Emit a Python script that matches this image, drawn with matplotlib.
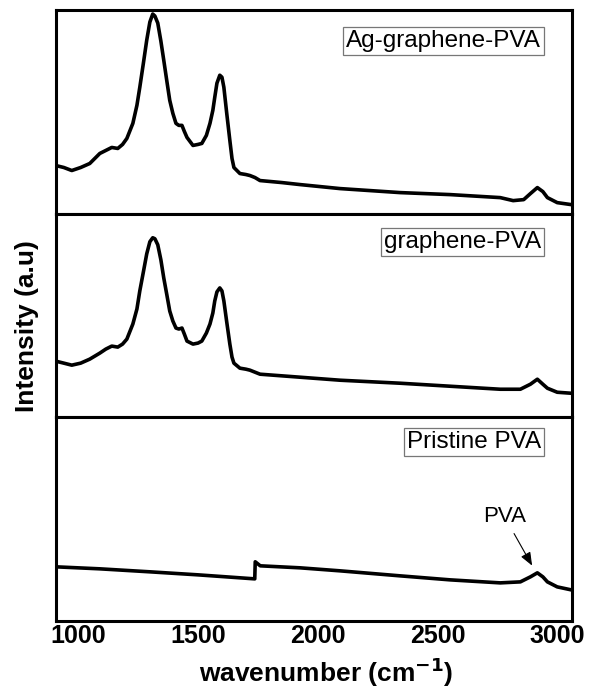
import matplotlib
matplotlib.use("Agg")
import matplotlib.pyplot as plt

plt.rcParams['font.family'] = ['Liberation Sans', 'DejaVu Sans']

# Ag-graphene-PVA (top panel)
wn_ag = [906, 940, 973, 1010, 1048, 1090, 1115, 1140, 1165, 1185, 1203, 1228, 1245,
         1257, 1272, 1286, 1299, 1311, 1320, 1332, 1345, 1357, 1370, 1382, 1395,
         1408, 1420, 1433, 1443, 1454, 1479, 1500, 1516, 1535, 1550, 1562, 1570,
         1579, 1591, 1600, 1608, 1620, 1633, 1642, 1650, 1675, 1700, 1717, 1738,
         1759, 1850, 1926, 2093, 2344, 2553, 2762, 2816, 2860, 2888, 2917, 2940,
         2959, 3000, 3059]
int_ag = [48, 46, 43, 46, 50, 60, 63, 66, 65, 69, 75, 90, 108,
          126, 150, 173, 191, 199, 197, 190, 172, 153, 132, 113, 100,
          90, 88, 88, 82, 76, 68, 69, 70, 78, 90, 103, 116,
          130, 138, 136, 126, 100, 73, 55, 46, 40, 39, 38, 36,
          33, 31, 29, 25, 21, 19, 16, 13, 14, 20, 26, 22,
          16, 11, 9]

# graphene-PVA (middle panel)
wn_gr = [906, 940, 973, 1010, 1048, 1090, 1115, 1140, 1165, 1185, 1203, 1228, 1245,
         1257, 1272, 1286, 1299, 1311, 1320, 1332, 1345, 1357, 1370, 1382, 1395,
         1408, 1420, 1433, 1443, 1454, 1479, 1500, 1516, 1535, 1550, 1562, 1570,
         1579, 1591, 1600, 1608, 1620, 1633, 1642, 1650, 1675, 1700, 1717, 1738,
         1759, 1926, 2093, 2344, 2553, 2762, 2846, 2888, 2917, 2940, 2959, 3000, 3059]
int_gr = [56, 54, 52, 54, 58, 64, 68, 71, 70, 73, 78, 93, 108,
          126, 145, 163, 175, 179, 178, 172, 157, 139, 122, 106, 96,
          89, 88, 89, 83, 76, 73, 74, 76, 84, 93, 104, 116,
          125, 129, 126, 116, 95, 73, 60, 54, 49, 48, 47, 45,
          43, 40, 37, 34, 31, 28, 28, 33, 38, 33, 29, 25, 24]

# Pristine PVA (bottom panel)
wn_pva = [906, 1090, 1300, 1500, 1737, 1739, 1760, 1926, 2093, 2344, 2553, 2762,
          2846, 2888, 2917, 2940, 2959, 3000, 3059]
int_pva = [54, 52, 49, 46, 42, 59, 55, 53, 50, 45, 41, 38,
           39, 44, 48, 44, 39, 34, 31]

panel_data = [(wn_ag, int_ag, "Ag-graphene-PVA", 0.847),
              (wn_gr, int_gr, "graphene-PVA", 0.862),
              (wn_pva, int_pva, "Pristine PVA", 0.878)]
xticks = [1000, 1500, 2000, 2500, 3000]

fig = plt.figure(figsize=(6.01, 6.88), dpi=100)
left, right = 55.5 / 601, 571.6 / 601
top, bottom = 1 - 10 / 688, 1 - 621 / 688
h = (top - bottom) / 3

axes = []
for i, (wn, inten, label, ty) in enumerate(panel_data):
    ax = fig.add_axes([left, top - (i + 1) * h, right - left, h])
    ax.plot(wn, inten, color='black', lw=2.6, solid_joinstyle='round')
    ax.set_xlim(905, 3060)
    ax.set_ylim(0, 203)
    ax.set_yticks([])
    for s in ax.spines.values():
        s.set_linewidth(2.2)
    ax.text(0.941, ty, label, transform=ax.transAxes, ha='right', va='center',
            fontsize=17.5,
            bbox=dict(boxstyle='square,pad=0.12', fc='white', ec='#777777', lw=0.9))
    ax.set_xticks(xticks)
    if i < 2:
        ax.tick_params(axis='x', length=0, labelbottom=False)
    else:
        ax.tick_params(axis='x', length=0, pad=2, labelsize=18)
        for t in ax.get_xticklabels():
            t.set_fontweight('bold')
    axes.append(ax)

axes[2].annotate('PVA', xy=(2898, 54), xytext=(2780, 104), ha='center', va='center',
                 fontsize=16,
                 arrowprops=dict(arrowstyle='-|>,head_length=0.5,head_width=0.2',
                                 color='black', lw=0.8, shrinkA=3, shrinkB=1))

fig.text(326 / 601, 1 - 672 / 688, 'wavenumber (cm$^{\\mathbf{-1}}$)', ha='center', va='center',
         fontsize=19, fontweight='bold')
fig.text(27 / 601, 1 - 326 / 688, 'Intensity (a.u)', ha='center', va='center',
         rotation=90, fontsize=19, fontweight='bold')

fig.savefig('out.png', dpi=100)
